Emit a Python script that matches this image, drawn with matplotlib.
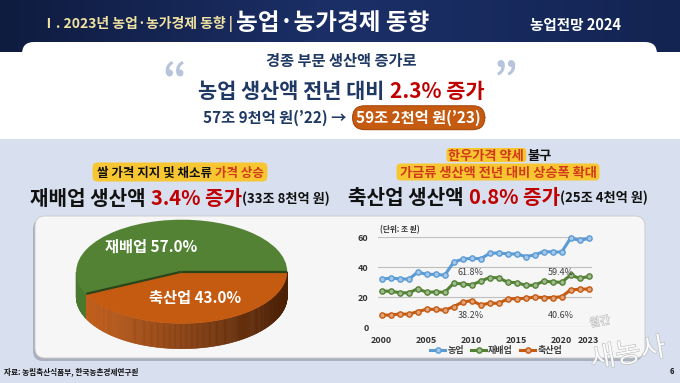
import numpy as np
import matplotlib
matplotlib.use('Agg')
import matplotlib.pyplot as plt
import matplotlib.colors as mcolors
import matplotlib.patheffects as pe
from matplotlib.patches import FancyBboxPatch, Rectangle, Polygon

plt.rcParams['font.family'] = ['Noto Sans CJK KR', 'DejaVu Sans']

# 데이터 (조 원)
years = list(range(2000, 2024))
farm_total = [32.2, 32.7, 32.4, 32.0, 36.8, 35.3, 35.3, 34.7, 43.5, 45.4, 46.0, 45.7,
              49.3, 49.6, 48.9, 48.9, 47.2, 48.2, 50.5, 50.2, 50.2, 59.6, 57.9, 59.3]
crops = [24.2, 24.0, 23.1, 22.9, 25.7, 23.3, 23.6, 23.3, 29.4, 28.9, 28.2, 30.8,
         33.2, 33.0, 30.0, 29.8, 28.0, 28.0, 30.8, 30.2, 30.0, 34.9, 32.6, 33.9]
livestock = [8.1, 8.2, 8.9, 8.7, 10.5, 12.0, 12.0, 11.3, 13.8, 16.8, 17.8, 14.9,
             16.1, 16.0, 18.9, 19.1, 19.3, 20.2, 19.8, 19.8, 20.4, 25.0, 25.3, 25.6]
series_names = ['농업', '재배업', '축산업']
x_ticks = [2000, 2005, 2010, 2015, 2020, 2023]

share_years = [2010, 2020]
crop_share = [61.8, 59.4]
live_share = [38.2, 40.6]

pie_labels = ['재배업', '축산업']
shares = [57.0, 43.0]

W, H = 680, 383
navy = '#1f3864'
red = '#c00000'
hl_red = '#d0391b'
yellow = '#f8c630'


def blend(c1, c2, f):
    a = np.array(mcolors.to_rgb(c1))
    b = np.array(mcolors.to_rgb(c2))
    return tuple(a * (1 - f) + b * f)


fig = plt.figure(figsize=(W / 100, H / 100), dpi=100)
fig.patch.set_facecolor('#d8e0f0')
bg = fig.add_axes([0, 0, 1, 1])
bg.axis('off')


def px_axes(x0, y0, x1, y1):
    return fig.add_axes([x0 / W, 1 - y1 / H, (x1 - x0) / W, (y1 - y0) / H])


# 상단 배너
grad = np.linspace(0, 1, 256)[None, :]
bcmap = mcolors.LinearSegmentedColormap.from_list('ban', ['#0f1c40', '#1c3068', '#132452'])
bg.imshow(grad, extent=[0, W, 52, 0], cmap=bcmap, aspect='auto', zorder=0)
bg.set_xlim(0, W)
bg.set_ylim(H, 0)

bg.add_patch(Rectangle((0, 52), W, 87, fc='white', ec='none', zorder=1))
bg.add_patch(FancyBboxPatch((22, 42), 635, 40, boxstyle='round,pad=0,rounding_size=12',
                            fc='white', ec='none', zorder=1))

bg.text(42, 24, 'Ⅰ. 2023년 농업·농가경제 동향 |', fontsize=10, fontweight='bold',
        color='#f2e3a3', va='center', ha='left', zorder=5)
bg.text(236, 23, '농업·농가경제 동향', fontsize=17, fontweight='bold',
        color='white', va='center', ha='left', zorder=5)
bg.text(575, 25, '농업전망 2024', fontsize=10.5, fontweight='bold',
        color='white', va='center', ha='center', zorder=5)

renderer = fig.canvas.get_renderer()


def rich(xc, yc, parts):
    # parts: (text, size, color, gap_px)
    arts, ws = [], []
    for s, size, color, gap in parts:
        em = size * 100 / 72
        t = bg.text(0, yc + 0.37 * em, s, fontsize=size, color=color, fontweight='bold',
                    va='baseline', ha='left', zorder=6)
        arts.append(t)
        ws.append(t.get_window_extent(renderer).width)
    total = sum(ws) + sum(p[3] for p in parts)
    x = xc - total / 2
    for t, w, p in zip(arts, ws, parts):
        x += p[3]
        t.set_x(x)
        x += w
    return arts, ws


rich(341, 60, [('경종 부문 생산액 증가로', 11, navy, 0)])
rich(341, 90, [('농업 생산액 전년 대비', 15, navy, 0), ('2.3% 증가', 15, red, 6)])
bg.text(174, 80, '“', fontsize=30, color='#b8c4dc', ha='center', va='center', fontweight='bold', zorder=5)
bg.text(506, 80, '”', fontsize=30, color='#b8c4dc', ha='center', va='center', fontweight='bold', zorder=5)
arts, _ = rich(342, 117, [('57조 9천억 원(’22) →', 11, navy, 0), ('59조 2천억 원(’23)', 11, 'white', 10)])
arts[1].set_bbox(dict(boxstyle='round,pad=0.25,rounding_size=0.8', fc='#c55a11', ec='#a84a0c', lw=0.8))

# 왼쪽 제목
arts, ws = rich(180, 172, [('쌀 가격 지지 및 채소류', 9, '#111111', 0), ('가격 상승', 9, hl_red, 3)])
x0 = arts[0].get_position()[0] - 4
x1 = arts[1].get_position()[0] + ws[1] + 4
bg.add_patch(FancyBboxPatch((x0, 162.5), x1 - x0, 19, boxstyle='round,pad=0,rounding_size=5',
                            fc=yellow, ec='none', zorder=4))
rich(180, 198, [('재배업 생산액', 14.5, '#111111', 0), ('3.4% 증가', 14.5, red, 6),
                ('(33조 8천억 원)', 9.5, '#111111', 0)])

# 오른쪽 제목
arts, ws = rich(500, 155, [('한우가격 약세', 9.5, hl_red, 0), ('불구', 9.5, '#111111', 3)])
x0 = arts[0].get_position()[0] - 2
bg.add_patch(FancyBboxPatch((x0, 148), ws[0] + 4, 14, boxstyle='round,pad=0,rounding_size=3',
                            fc=yellow, ec='none', zorder=4))
arts, ws = rich(498, 172, [('가금류 생산액 전년 대비 상승폭 확대', 9.5, hl_red, 0)])
x0 = arts[0].get_position()[0] - 3
bg.add_patch(FancyBboxPatch((x0, 163.5), ws[0] + 6, 17, boxstyle='round,pad=0,rounding_size=4',
                            fc=yellow, ec='none', zorder=4))
rich(498, 197, [('축산업 생산액', 14.5, '#111111', 0), ('0.8% 증가', 14.5, red, 6),
                ('(25조 4천억 원)', 9.5, '#111111', 0)])

# 흰 패널
bg.add_patch(FancyBboxPatch((33, 219), 610, 142, boxstyle='round,pad=0,rounding_size=10',
                            fc='#8a8f9a', ec='none', alpha=0.6, zorder=2))
bg.add_patch(FancyBboxPatch((35, 216), 610, 142, boxstyle='round,pad=0,rounding_size=10',
                            fc='#f6f6f6', ec='#c8c8c8', lw=0.6, zorder=3))

# 3D 파이
cx, cy, rx, ry, depth = 181.7, 271.7, 105.5, 52.0, 25.0
pax = px_axes(60, 205, 305, 365)
pie_colors = ['#548235', '#c55a11']
side_cols = [('#4a7a2e', '#365a20'), ('#c9621d', '#4a2006')]
wedges, _ = pax.pie(shares, colors=pie_colors, startangle=0, counterclock=True,
                    wedgeprops=dict(lw=0))
pax.set_aspect('auto')
pax.set_xlim((60 - cx) / rx, (305 - cx) / rx)
pax.set_ylim((cy - 365) / ry, (cy - 205) / ry)
pax.set_facecolor('none')
pax.axis('off')
th_d = depth / ry
bounds = np.concatenate([[0], np.cumsum(shares) / sum(shares) * 360])
for i in range(len(shares)):
    a0, a1 = max(bounds[i], 180), min(bounds[i + 1], 360)
    if a1 <= a0:
        continue
    angs = np.linspace(a0, a1, int((a1 - a0) * 1.5) + 2)
    for b0, b1 in zip(angs[:-1], angs[1:]):
        t0, t1 = np.radians(b0), np.radians(b1)
        poly = [(np.cos(t0), np.sin(t0)), (np.cos(t1), np.sin(t1)),
                (np.cos(t1), np.sin(t1) - th_d), (np.cos(t0), np.sin(t0) - th_d)]
        f = (np.cos((t0 + t1) / 2) + 1) / 2
        col = blend(side_cols[i][0], side_cols[i][1], f)
        pax.add_patch(Polygon(poly, closed=True, fc=col, ec=col, lw=0.4, zorder=0))
for b in bounds[:-1]:
    tb = np.radians(b)
    pax.plot([0, np.cos(tb)], [0, np.sin(tb)], color='#2a4519', lw=1.6, zorder=3,
             solid_capstyle='butt')

label_pos = [(151, 247), (195, 298)]
for lab, sh, (lx, ly) in zip(pie_labels, shares, label_pos):
    fig.text(lx / W, 1 - ly / H, f'{lab} {sh:.1f}%', fontsize=11, fontweight='bold',
             color='white', ha='center', va='center')

# 선 그래프
lax = px_axes(378.1, 237.3, 592.3, 327.3)
lax.set_facecolor('none')
line_colors = ['#5b9bd5', '#548235', '#c55a11']
for vals, name, c in zip([farm_total, crops, livestock], series_names, line_colors):
    lax.plot(years, vals, color=c, lw=2.2, marker='o', ms=3.8,
             mfc=blend(c, 'white', 0.45), mec=c, mew=1.0, label=name,
             clip_on=False, zorder=3)
for yr, cs, ls in zip(share_years, crop_share, live_share):
    lax.text(yr - 0.1, 36.6, f'{cs}%', fontsize=6.5, color='#404040', ha='center', va='center')
    lax.text(yr - 0.1, 8.2, f'{ls}%', fontsize=6.5, color='#404040', ha='center', va='center')
lax.set_xlim(1999.6, 2023.4)
lax.set_ylim(0, 60)
lax.set_yticks([0, 20, 40, 60])
lax.set_xticks(x_ticks)
lax.grid(axis='y', color='#bfbfbf', lw=0.8)
lax.set_axisbelow(True)
for s in lax.spines.values():
    s.set_visible(False)
lax.tick_params(axis='y', length=0, labelsize=6.5, labelcolor='#333333', pad=7)
lax.tick_params(axis='x', length=0, labelsize=6.5, labelcolor='#333333', pad=6)
for lab in lax.get_xticklabels() + lax.get_yticklabels():
    lab.set_fontweight('bold')
bg.text(380, 230, '(단위: 조 원)', fontsize=5.5, fontweight='bold', color='#333333',
        ha='left', va='center', zorder=6)
lax.legend(loc='center', bbox_to_anchor=(496 / W, 1 - 351 / H), bbox_transform=fig.transFigure,
           ncol=3, frameon=False, prop={'size': 6.5, 'weight': 'bold'}, handlelength=1.7,
           columnspacing=0.8, handletextpad=0.2, labelcolor='#404040')

# 하단
bg.text(4, 372, '자료: 농림축산식품부, 한국농촌경제연구원', fontsize=5.5, fontweight='bold',
        color='#111111', ha='left', va='center', zorder=6)
bg.text(672, 372, '6', fontsize=5.5, fontweight='bold', color='#111111', ha='center', va='center')

# 워터마크
stroke = [pe.withStroke(linewidth=0.8, foreground='#b0b0b0')]
fig.text(600 / W, 1 - 322 / H, '월간', fontsize=8, color='white', ha='center', va='center',
         rotation=10, path_effects=stroke, alpha=0.85, fontweight='light')
fig.text(628 / W, 1 - 354 / H, '새농사', fontsize=20, color='white', ha='center', va='center',
         rotation=10, path_effects=stroke, alpha=0.85, fontweight='light')

fig.savefig('out.png', dpi=100, facecolor=fig.get_facecolor())
